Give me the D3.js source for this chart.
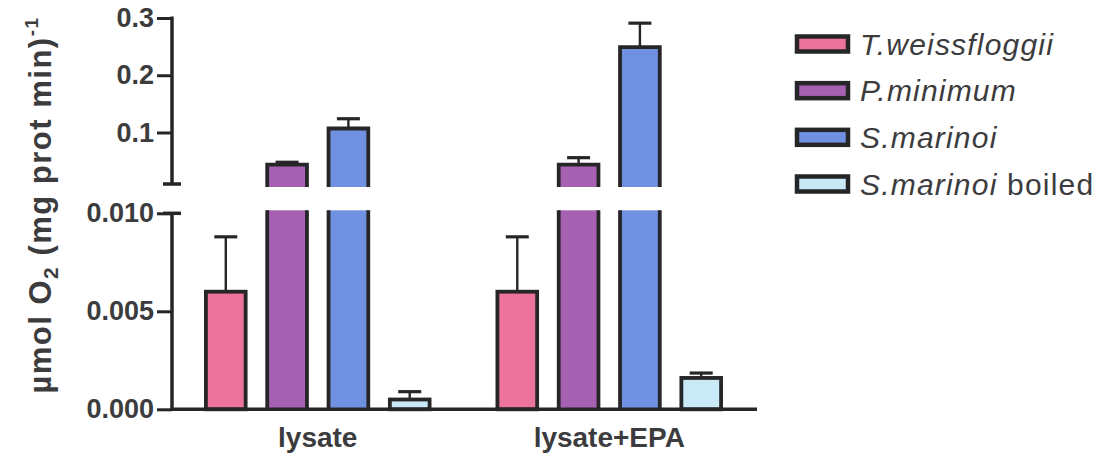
<!DOCTYPE html>
<html>
<head>
<meta charset="utf-8">
<script src="https://cdn.jsdelivr.net/npm/d3@7"></script>
<style>
  html, body { margin: 0; padding: 0; background: #ffffff; }
  svg { display: block; }
  text { font-family: "Liberation Sans", Arial, sans-serif; fill: #3c3c3e; }
</style>
</head>
<body>
<svg id="chart" width="1103" height="459"></svg>
<script>
// Oxygen consumption of diatom / dinoflagellate lysates, with and without EPA
const groups = ["lysate", "lysate+EPA"];
const series = ["T.weissfloggii", "P.minimum", "S.marinoi", "S.marinoi boiled"];
const lysateMean = [0.0060, 0.044, 0.107, 0.0005];
const lysateErr  = [0.0028, 0.004, 0.017, 0.0004];
const epaMean    = [0.0060, 0.044, 0.249, 0.0016];
const epaErr     = [0.0028, 0.012, 0.042, 0.00025];
const lowerTicks = [0.000, 0.005, 0.010];
const upperTicks = [0.1, 0.2, 0.3];

const fills = ["#ec739b", "#a761b3", "#7090e2", "#c9e9f6"];
const ink = "#262628";

const rows = groups.map((g, gi) => ({
  group: g,
  bars: series.map((s, si) => ({
    series: s,
    si,
    mean: gi === 0 ? lysateMean[si] : epaMean[si],
    err:  gi === 0 ? lysateErr[si]  : epaErr[si]
  }))
}));

const svg = d3.select("#chart");

// Broken value axis: a lower linear segment and an upper linear segment
const lowMax = 0.010;
const yLow = d3.scaleLinear().domain([0, lowMax]).range([409.3, 213.3]);
const yUp  = d3.scaleLinear().domain([lowMax, 0.3]).range([184, 18]);
const axisX = 172;

const x0 = d3.scaleBand().domain(groups).range([axisX, 755])
  .paddingInner(0.207).paddingOuter(0.1035);
const x1 = d3.scaleBand().domain(series).range([0, x0.bandwidth()])
  .paddingInner(0.29).paddingOuter(0.03);

const sw = 3.8;           // bar outline width
const gapPad = 3;         // how far bar pieces run past each axis segment end

const gBars = svg.append("g");

function errorBar(g, xc, yFrom, yTo) {
  g.append("line").attr("x1", xc).attr("x2", xc).attr("y1", yFrom).attr("y2", yTo)
    .attr("stroke", ink).attr("stroke-width", 2.4);
  g.append("line").attr("x1", xc - 11.5).attr("x2", xc + 11.5).attr("y1", yTo).attr("y2", yTo)
    .attr("stroke", ink).attr("stroke-width", 3.2);
}

rows.forEach(row => {
  row.bars.forEach(b => {
    const xl = x0(row.group) + x1(b.series) + sw / 2;
    const xr = x0(row.group) + x1(b.series) + x1.bandwidth() - sw / 2;
    const xc = (xl + xr) / 2;
    const g = gBars.append("g");
    const base = yLow(0);

    if (b.mean <= lowMax) {
      const top = yLow(b.mean);
      g.append("rect")
        .attr("x", xl).attr("y", top)
        .attr("width", xr - xl).attr("height", base - top)
        .attr("fill", fills[b.si]).attr("stroke", ink).attr("stroke-width", sw);
      errorBar(g, xc, top, yLow(b.mean + b.err));
    } else {
      // lower piece: open at the top where the axis breaks
      const lTop = yLow(lowMax) - gapPad;
      g.append("rect")
        .attr("x", xl).attr("y", lTop)
        .attr("width", xr - xl).attr("height", base - lTop)
        .attr("fill", fills[b.si]);
      g.append("path")
        .attr("d", `M${xl},${base}V${lTop}M${xr},${lTop}V${base}`)
        .attr("fill", "none").attr("stroke", ink).attr("stroke-width", sw);
      // upper piece: open at the bottom
      const uTop = yUp(b.mean);
      const uBot = yUp(lowMax) + gapPad;
      g.append("rect")
        .attr("x", xl).attr("y", uTop)
        .attr("width", xr - xl).attr("height", uBot - uTop)
        .attr("fill", fills[b.si]);
      g.append("path")
        .attr("d", `M${xl},${uBot}V${uTop}H${xr}V${uBot}`)
        .attr("fill", "none").attr("stroke", ink).attr("stroke-width", sw)
        .attr("stroke-linejoin", "miter");
      errorBar(g, xc, uTop, yUp(b.mean + b.err));
    }
  });
});

// Y axes (two segments)
function styleAxis(sel) {
  sel.select(".domain").remove();
  sel.selectAll(".tick line").attr("stroke", ink).attr("stroke-width", 3);
  sel.selectAll(".tick text")
    .attr("font-size", 27).attr("font-weight", "bold").attr("fill", "#3c3c3e");
}

const gLow = svg.append("g").attr("transform", `translate(${axisX},0)`)
  .call(d3.axisLeft(yLow).tickValues(lowerTicks).tickFormat(d3.format(".3f"))
    .tickSize(15).tickPadding(3));
styleAxis(gLow);

const gUp = svg.append("g").attr("transform", `translate(${axisX},0)`)
  .call(d3.axisLeft(yUp).tickValues(upperTicks).tickFormat(d3.format(".1f"))
    .tickSize(15).tickPadding(3));
styleAxis(gUp);

// axis spines with end caps at the break
const spine = svg.append("g").attr("stroke", ink).attr("stroke-width", 3.5).attr("fill", "none");
spine.append("line").attr("x1", axisX).attr("x2", axisX)
  .attr("y1", yUp(0.3) - 1.5).attr("y2", yUp(lowMax));
spine.append("line").attr("x1", axisX - 9).attr("x2", axisX + 9)
  .attr("y1", yUp(lowMax)).attr("y2", yUp(lowMax));
spine.append("line").attr("x1", axisX).attr("x2", axisX)
  .attr("y1", yLow(lowMax)).attr("y2", yLow(0));
spine.append("line").attr("x1", axisX - 9).attr("x2", axisX + 9)
  .attr("y1", yLow(lowMax)).attr("y2", yLow(lowMax));

// X axis
const gX = svg.append("g").attr("transform", `translate(0,${yLow(0)})`)
  .call(d3.axisBottom(x0).tickSize(0).tickPadding(0));
gX.select(".domain").remove();
gX.selectAll(".tick text")
  .attr("y", 38).attr("dy", 0)
  .attr("font-size", 28).attr("font-weight", "bold").attr("fill", "#3c3c3e");
svg.append("line")
  .attr("x1", axisX - 1.75).attr("x2", 757)
  .attr("y1", yLow(0)).attr("y2", yLow(0))
  .attr("stroke", ink).attr("stroke-width", 3.5);

// Y axis title
const title = svg.append("text")
  .attr("transform", "translate(51,205) rotate(-90)")
  .attr("text-anchor", "middle")
  .attr("font-size", 31).attr("font-weight", "bold")
  .attr("letter-spacing", 1.5).attr("fill", "#3c3c3e");
title.append("tspan").text("µmol O");
title.append("tspan").attr("font-size", 21).attr("dy", 7).text("2");
title.append("tspan").attr("dy", -7).text(" (mg prot min)");
title.append("tspan").attr("font-size", 19).attr("dy", -13).text("-1");

// Legend
const legendY = d3.scalePoint().domain(series).range([44, 184]);
const leg = svg.append("g");
series.forEach((s, i) => {
  const cy = legendY(s);
  leg.append("rect")
    .attr("x", 797).attr("y", cy - 7.5)
    .attr("width", 51).attr("height", 15)
    .attr("fill", fills[i]).attr("stroke", ink).attr("stroke-width", 4.5);
  const t = leg.append("text")
    .attr("x", 860).attr("y", cy + 10.5)
    .attr("font-size", 30).attr("letter-spacing", 1.2).attr("fill", "#3c3c3e");
  if (s.endsWith(" boiled")) {
    t.append("tspan").attr("font-style", "italic").text("S.marinoi");
    t.append("tspan").text(" boiled");
  } else {
    t.append("tspan").attr("font-style", "italic").text(s);
  }
});
</script>
</body>
</html>
